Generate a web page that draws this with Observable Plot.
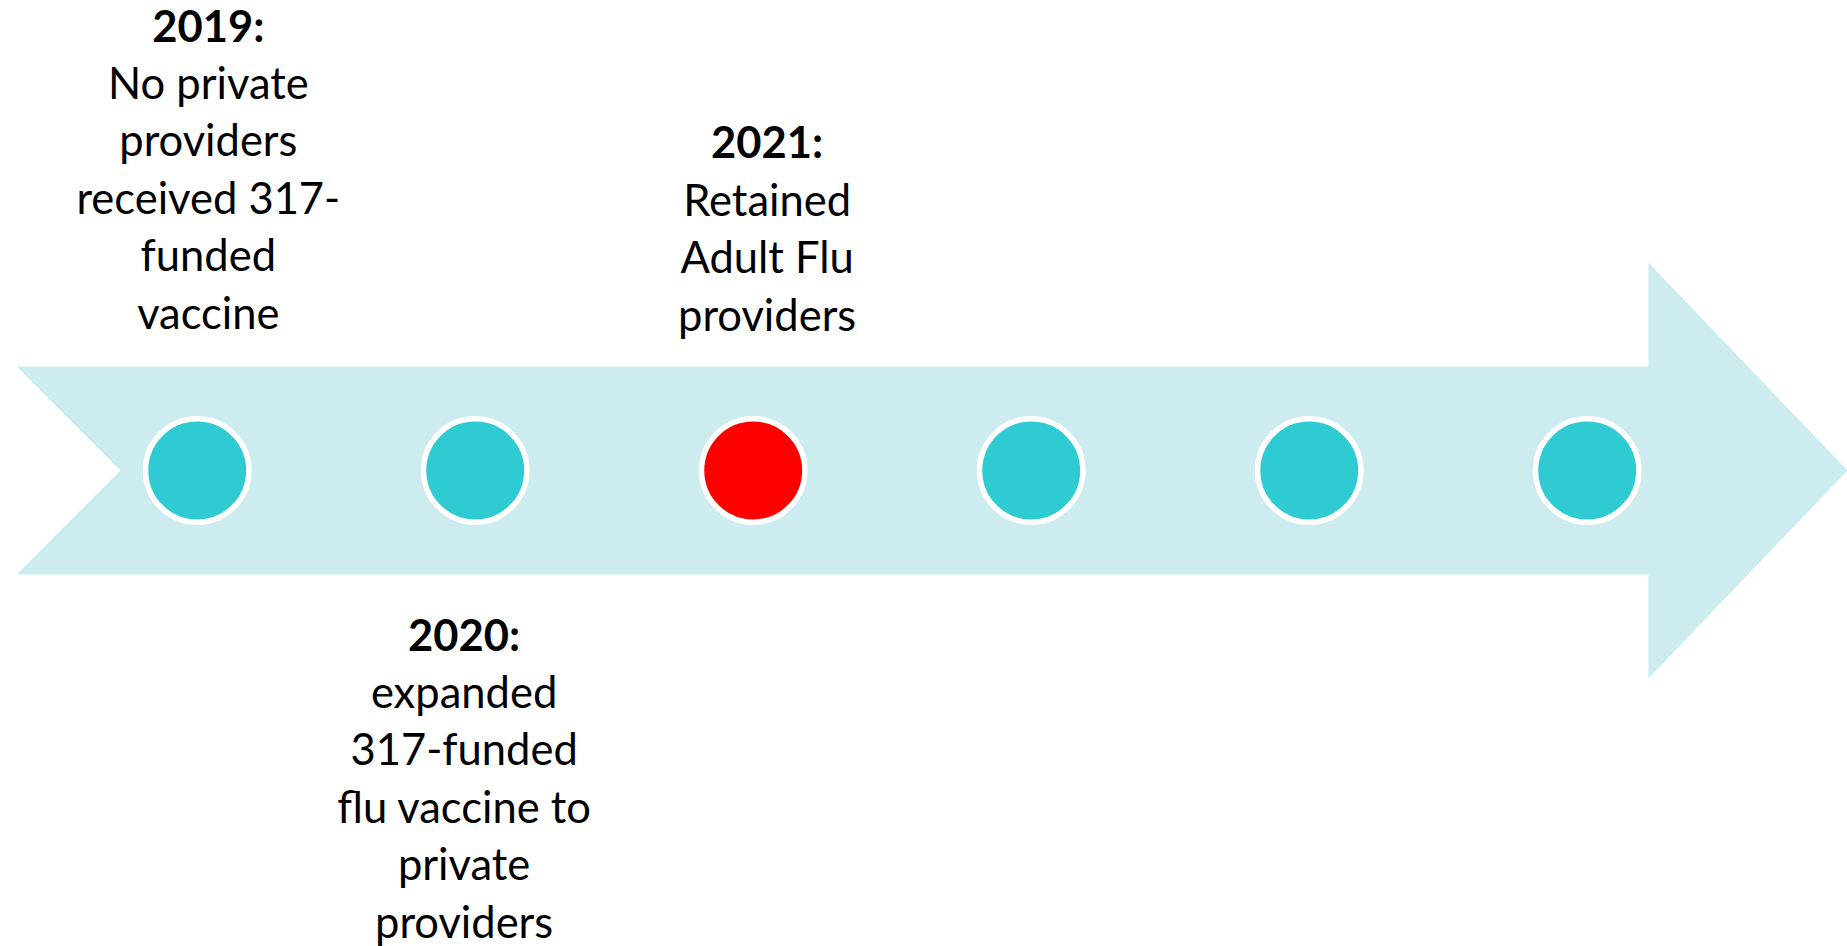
<!DOCTYPE html>
<html>
<head>
<meta charset="utf-8">
<script src="https://cdn.jsdelivr.net/npm/d3@7"></script>
<script src="https://cdn.jsdelivr.net/npm/@observablehq/plot@0.6"></script>
<style>
  html, body { margin: 0; padding: 0; background: #ffffff; }
  #chart svg { display: block; }
</style>
</head>
<body>
<div id="chart"></div>
<script>
// Milestones on the timeline (one dot per year)
const years = [2019, 2020, 2021, 2022, 2023, 2024];
const highlighted = [false, false, true, false, false, false];

// Annotated milestones
const labelYears = ["2019:", "2020:", "2021:"];
const labelBodies = [
  "No private\nproviders\nreceived 317-\nfunded\nvaccine",
  "expanded\n317-funded\nflu vaccine to\nprivate\nproviders",
  "Retained\nAdult Flu\nproviders"
];
const labelX = [2019.04, 2019.96, 2021.05];
const labelTitleY = [429, -180, 313];
const labelBodyY = [142, -467, 140];

// Arrow outline (x in years, y in arbitrary units around the timeline)
const arrowX = [2018.35, 2024.22, 2024.22, 2024.936, 2024.22, 2024.22, 2018.35, 2018.724, 2018.35];
const arrowY = [104, 104, 208, 0, -208, -104, -104, 0, 104];

const arrow = arrowX.map((x, i) => ({x, y: arrowY[i]}));
const dots = years.map((year, i) => ({year, hot: highlighted[i]}));
const titles = labelYears.map((t, i) => ({t, x: labelX[i], y: labelTitleY[i]}));
const bodies = labelBodies.map((t, i) => ({t, x: labelX[i], y: labelBodyY[i]}));

const FONT = "Lato, 'Open Sans', sans-serif";
const FS = 43.5;

const plot = Plot.plot({
  width: 1847,
  height: 946,
  margin: 0,
  style: {background: "#ffffff", fontFamily: FONT, overflow: "visible"},
  x: {domain: [2018.2924, 2024.9363], axis: null},
  y: {domain: [-476, 470], axis: null},
  marks: [
    Plot.line(arrow, {x: "x", y: "y", fill: "#cdecef", stroke: "none"}),
    Plot.dot(dots, {
      x: "year", y: () => 0, r: 51.7,
      fill: d => d.hot ? "#ff0000" : "#2ecbd3",
      stroke: "#ffffff", strokeWidth: 5.5
    }),
    Plot.text(titles, {
      x: "x", y: "y", text: "t", fontSize: FS, fontWeight: "bold",
      fill: "#000000", textAnchor: "middle", lineAnchor: "bottom"
    }),
    Plot.text(bodies, {
      x: "x", y: "y", text: "t", fontSize: FS, fontWeight: "normal",
      fill: "#000000", textAnchor: "middle", lineAnchor: "bottom",
      lineHeight: 57.5 / FS
    })
  ]
});
document.getElementById("chart").appendChild(plot);
</script>
</body>
</html>
